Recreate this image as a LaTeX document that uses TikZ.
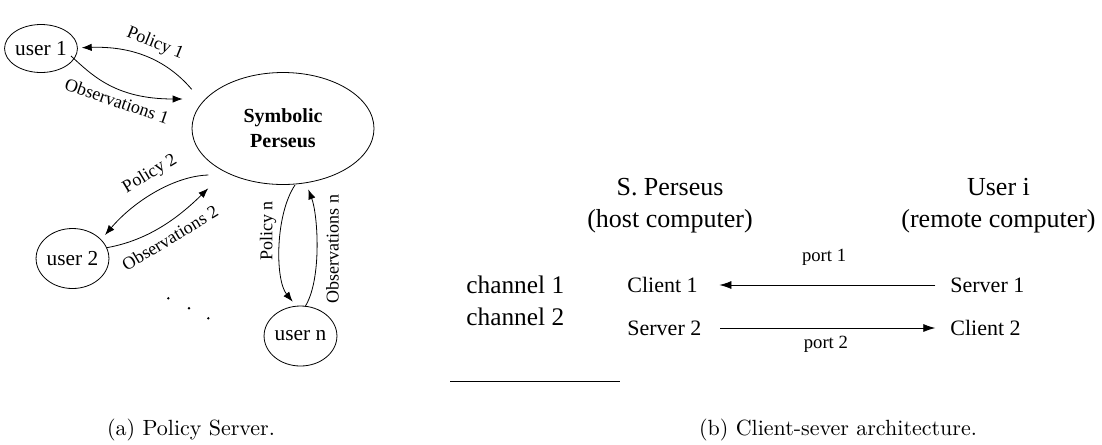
\documentclass[tikz,border=0pt]{standalone}
\usepackage{fontspec}
\newfontfamily\tnr{Liberation Serif}
\newfontfamily\capfont{lmroman10-regular.otf}
\usetikzlibrary{shapes.geometric,arrows.meta,calc}

\begin{document}
\begin{tikzpicture}[x=0.75pt,y=-0.75pt,
  line width=0.6pt,
  usernode/.style={draw,ellipse,inner sep=0pt,font=\tnr\fontsize{16}{18}\selectfont},
  lbl/.style={inner sep=0pt,font=\tnr\fontsize{13.5}{15}\selectfont},
  arr/.style={-{Latex[length=7.5pt,width=5.5pt]}},
  head/.style={inner sep=0pt,align=center,font=\tnr\fontsize{19.5}{24}\selectfont},
  chan/.style={inner sep=0pt,anchor=west,font=\tnr\fontsize{19}{22}\selectfont},
  endpt/.style={inner sep=0pt,anchor=west,font=\tnr\fontsize{16.5}{19}\selectfont},
  portlbl/.style={inner sep=0pt,font=\tnr\fontsize{14}{16}\selectfont},
  caption/.style={inner sep=0pt,font=\capfont\fontsize{16.5}{19}\selectfont}
]
\useasboundingbox (0,0) rectangle (1102,444);

% ---------- (a) policy server ----------
\node[draw,ellipse,minimum width=136.5pt,minimum height=84pt,inner sep=0pt,
      align=center,font=\tnr\bfseries\fontsize{15}{18.75}\selectfont] (sp) at (283,128.5)
      {Symbolic\\Perseus};
\node[usernode,minimum width=45pt,minimum height=36pt] (u1) at (41,48.5) {user 1};
\node[usernode,minimum width=45pt,minimum height=45pt] (u2) at (72.5,258.5) {user 2};
\node[usernode,minimum width=47pt,minimum height=45pt] (un) at (300.5,336) {user n};

% user 1
\draw[arr] ($(sp.center)+(-91.3,-39.2)$) .. controls (165,58) and (130,46) .. ($(u1.center)+(40.7,-0.8)$);
\draw[arr] ($(u1.center)+(30,7.5)$) .. controls (92,75) and (115,99) .. ($(sp.center)+(-100.3,-29.5)$);
\node[lbl,rotate=-22] (lp1) at (155,44) {Policy 1};
\node[lbl,rotate=-19] (lo1) at (117,101) {Observations 1};

% user 2
\draw[arr] ($(sp.center)+(-74.7,46.5)$) .. controls (175,176) and (135,200) .. ($(u2.center)+(32.5,-23.5)$);
\draw[arr] ($(u2.center)+(34.2,-10.8)$) .. controls (150,240) and (180,216) .. ($(sp.center)+(-74.7,59.8)$);
\node[lbl,rotate=31] (lp2) at (150,174) {Policy 2};
\node[lbl,rotate=31] (lo2) at (170,238) {Observations 2};

% user n
\draw[arr] ($(sp.center)+(12,56.5)$) .. controls (275,215) and (275,280) .. ($(un.center)+(-7.8,-34.3)$);
\draw[arr] ($(un.center)+(4.5,-29.3)$) .. controls (322,280) and (318,215) .. ($(sp.center)+(25.3,60.8)$);
\node[lbl,rotate=90] (lpn) at (268,231) {Policy n};
\node[lbl,rotate=90] (lon) at (332.5,249) {Observations n};

% further users
\fill (168.3,298.3) circle (1pt) (189,308.3) circle (1pt) (208.3,318.3) circle (1pt);

% ---------- (b) client-server architecture ----------
\node[head] (host) at (670,206) {S. Perseus\\(host computer)};
\node[head] (remote) at (998.5,206) {User i\\(remote computer)};

\node[chan] (ch1) at (466,285) {channel 1};
\node[chan] (ch2) at (466,317) {channel 2};

\node[endpt] (c1) at (627,285) {Client 1};
\node[endpt] (s2) at (627,328) {Server 2};
\node[endpt] (s1) at (950,285) {Server 1};
\node[endpt] (c2) at (950,328) {Client 2};

\draw[arr,-{Latex[length=9pt,width=6pt]}, shorten <=11pt, shorten >=16pt] (s1.west) -- (c1.east)
  node[portlbl,pos=0.5,above=14pt] (p1) {port 1};
\draw[arr,-{Latex[length=9pt,width=6pt]}, shorten <=14pt, shorten >=11pt] (s2.east) -- (c2.west)
  node[portlbl,pos=0.5,below=6pt] (p2) {port 2};

\draw (450,381.7) -- (620,381.7);

% ---------- captions ----------
\node[caption] (capa) at (191,430) {(a) Policy Server.};
\node[caption] (capb) at (838,430) {(b) Client-sever architecture.};
\end{tikzpicture}
\end{document}
